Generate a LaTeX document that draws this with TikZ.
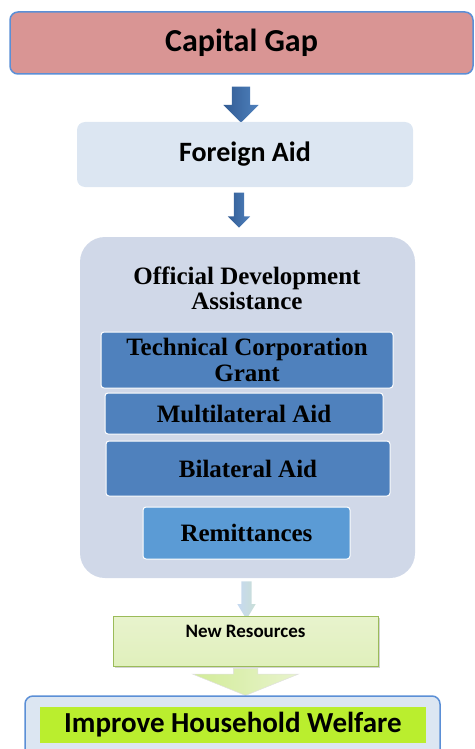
\documentclass[tikz,border=0pt]{standalone}
\usepackage{fontspec}
\setmainfont{Liberation Serif}
\newfontfamily\calfont{Carlito}
\usetikzlibrary{shapes.arrows,shadows}
\definecolor{gaprose}{RGB}{217,149,148}
\definecolor{edgeblue}{RGB}{91,143,214}
\definecolor{paleblue}{RGB}{220,230,242}
\definecolor{odagrey}{RGB}{208,216,232}
\definecolor{aidblue}{RGB}{79,129,189}
\definecolor{remblue}{RGB}{91,155,213}
\definecolor{limegreen}{RGB}{186,238,46}
\definecolor{olivegreen}{RGB}{155,187,89}
\definecolor{palegreen}{RGB}{232,243,205}
\definecolor{lightgreen}{RGB}{224,240,188}
\definecolor{headgreen}{RGB}{210,236,152}
\definecolor{arrowdark}{RGB}{50,92,148}
\definecolor{arrowpale}{RGB}{198,217,241}
\tikzset{box/.style={rectangle,rounded corners=8pt,inner sep=0pt,align=center}}
\tikzset{aidbox/.style={box,rounded corners=3pt,fill=aidblue,draw=white,line width=1pt,font=\fontsize{25}{26}\selectfont\bfseries}}
\tikzset{downarrow/.style={single arrow,rotate=-90,inner xsep=0pt,draw=none}}

\begin{document}
\begin{tikzpicture}[x=1pt,y=-1pt]
    \useasboundingbox (0,0) rectangle (474,749);
    \node[box,fill=gaprose,draw=edgeblue,line width=1.5pt,minimum width=463,minimum height=62,
      font=\calfont\fontsize{32}{34}\selectfont\bfseries] (gap) at (241.5,43) {Capital Gap};
    \node[downarrow,minimum height=36,inner ysep=9pt,single arrow head extend=8.5,
      left color=arrowdark,right color=aidblue] (a1) at (241,100) {};
    \node[box,fill=paleblue,minimum width=336,minimum height=65,
      font=\calfont\fontsize{28}{30}\selectfont\bfseries] (foreign) at (245,154.5) {Foreign Aid};
    \node[downarrow,minimum height=35,inner ysep=5pt,single arrow head extend=6,
      left color=arrowdark,right color=aidblue] (a2) at (239,207.5) {};
    % official development assistance
    \node[box,rounded corners=25pt,fill=odagrey,minimum width=335,minimum height=341] (oda) at (247.5,407.5) {};
    \node[align=center,font=\fontsize{25}{25}\selectfont\bfseries] (odatitle) at (247,288) {Official Development\\Assistance};
    \node[aidbox,minimum width=292,minimum height=56] (tech) at (247,360) {Technical Corporation\\Grant};
    \node[aidbox,minimum width=278,minimum height=41] (multi) at (244,413.5) {Multilateral Aid};
    \node[aidbox,minimum width=284,minimum height=55] (bilat) at (248,468.5) {Bilateral Aid};
    \node[aidbox,fill=remblue,minimum width=207,minimum height=52] (remit) at (246.5,533) {Remittances};
    \node[downarrow,minimum height=38,inner ysep=5pt,single arrow head extend=4,single arrow tip angle=62,
      left color=arrowpale,right color=arrowpale!70!headgreen] (a3) at (246.5,596) {};
    % new resources
    \node[box,rounded corners=0pt,top color=palegreen,bottom color=lightgreen,draw=olivegreen,line width=0.8pt,
      drop shadow={opacity=0.35,shadow xshift=1.5pt,shadow yshift=-2pt},
      minimum width=265,minimum height=50,text depth=19pt,
      font=\calfont\fontsize{19}{21}\selectfont\bfseries] (newres) at (245.5,641) {New Resources};
    \node[downarrow,minimum height=27,inner ysep=12pt,single arrow head extend=40.5,single arrow tip angle=136,
      left color=headgreen,right color=palegreen,draw=black!12,line width=0.5pt] (a4) at (245.5,679.5) {};
    % welfare
    \node[box,fill=paleblue,draw=edgeblue,line width=1.5pt,minimum width=415,minimum height=70] (welfare) at (232.5,731) {};
    \node[rectangle,fill=limegreen,inner sep=0pt,minimum width=386,minimum height=36,
      font=\calfont\fontsize{29}{30}\selectfont\bfseries] (welfaretxt) at (233,725) {Improve Household Welfare};
  \end{tikzpicture}
\end{document}
